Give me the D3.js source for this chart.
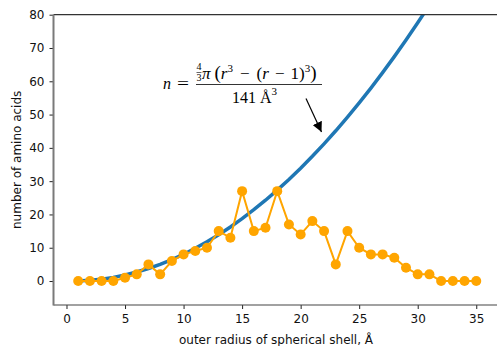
<!DOCTYPE html>
<html>
<head>
<meta charset="utf-8">
<script src="https://cdn.jsdelivr.net/npm/d3@7"></script>
<style>
  body { margin: 0; background: #fff; }
  svg text { font-family: "DejaVu Sans", sans-serif; }
  .formula text { font-family: "Liberation Serif", "DejaVu Serif", serif; fill: #000; }
</style>
</head>
<body>
<div id="chart"></div>
<script>
// observed residues per shell (orange)
const shellRadius = [1, 2, 3, 4, 5, 6, 7, 8, 9, 10, 11, 12, 13, 14, 15, 16, 17, 18,
  19, 20, 21, 22, 23, 24, 25, 26, 27, 28, 29, 30, 31, 32, 33, 34, 35];
const aminoCount = [0, 0, 0, 0, 1, 2, 5, 2, 6, 8, 9, 10, 15, 13, 27, 15, 16, 27,
  17, 14, 18, 15, 5, 15, 10, 8, 8, 7, 4, 2, 2, 0, 0, 0, 0];

// expected count per shell (blue)
const curveRadius = [1, 2, 3, 4, 5, 6, 7, 8, 9, 10, 11, 12, 13, 14, 15, 16,
  17, 18, 19, 20, 21, 22, 23, 24, 25, 26, 27, 28, 29, 30, 31, 32];
const curveValue = [0.03, 0.21, 0.56, 1.10, 1.81, 2.70, 3.77, 5.02, 6.45, 8.05,
  9.83, 11.79, 13.93, 16.25, 18.75, 21.42, 24.27, 27.30, 30.51, 33.90, 37.46,
  41.21, 45.13, 49.23, 53.50, 57.96, 62.60, 67.41, 72.40, 77.57, 82.92, 88.44];

const xTicks = [0, 5, 10, 15, 20, 25, 30, 35];
const yTicks = [0, 10, 20, 30, 40, 50, 60, 70, 80];

const W = 497;
const H = 346;
const plot = {left: 53.5, right: 498.5, top: 14.7, bottom: 305};

const xScale = d3.scaleLinear().domain([-1.11, 36.9]).range([plot.left, plot.right]);
const yScale = d3.scaleLinear().domain([-7.2, 80]).range([plot.bottom, plot.top]);

const svg = d3.select('#chart')
    .append('svg')
    .attr('width', W)
    .attr('height', H);

const defs = svg.append('defs');
defs.append('clipPath')
    .attr('id', 'plotClip')
    .append('rect')
    .attr('x', plot.left)
    .attr('y', plot.top)
    .attr('width', plot.right - plot.left)
    .attr('height', plot.bottom - plot.top);

const inner = svg.append('g').attr('clip-path', 'url(#plotClip)');

// blue expected curve
const curveLine = d3.line()
    .x((d, i) => xScale(curveRadius[i]))
    .y((d) => yScale(d));
inner.append('path')
    .datum(curveValue)
    .attr('fill', 'none')
    .attr('stroke', '#1f77b4')
    .attr('stroke-width', 3.5)
    .attr('d', curveLine);

// orange observed line + markers
const countLine = d3.line()
    .x((d, i) => xScale(shellRadius[i]))
    .y((d) => yScale(d));
inner.append('path')
    .datum(aminoCount)
    .attr('fill', 'none')
    .attr('stroke', '#ffa500')
    .attr('stroke-width', 2)
    .attr('d', countLine);
inner.selectAll('circle.pt')
    .data(aminoCount)
    .enter()
    .append('circle')
    .attr('class', 'pt')
    .attr('cx', (d, i) => xScale(shellRadius[i]))
    .attr('cy', (d) => yScale(d))
    .attr('r', 5)
    .attr('fill', '#ffa500');

// axes
const xAxis = svg.append('g')
    .attr('transform', `translate(0, ${plot.bottom})`)
    .call(d3.axisBottom(xScale).tickValues(xTicks).tickSize(4).tickPadding(5));
const yAxis = svg.append('g')
    .attr('transform', `translate(${plot.left}, 0)`)
    .call(d3.axisLeft(yScale).tickValues(yTicks).tickSize(4).tickPadding(5));
[xAxis, yAxis].forEach((ax) => {
  ax.select('.domain').remove();
  ax.selectAll('.tick line').attr('stroke', '#222');
  ax.selectAll('.tick text')
      .attr('fill', '#111')
      .style('font-size', '12px');
});

// spines
svg.append('line')
    .attr('x1', plot.left).attr('x2', W)
    .attr('y1', plot.top).attr('y2', plot.top)
    .attr('stroke', '#333').attr('stroke-width', 1.2);
svg.append('line')
    .attr('x1', plot.left).attr('x2', W)
    .attr('y1', plot.bottom).attr('y2', plot.bottom)
    .attr('stroke', '#444').attr('stroke-width', 1.2);
svg.append('line')
    .attr('x1', plot.left).attr('x2', plot.left)
    .attr('y1', plot.top).attr('y2', plot.bottom + 0.6)
    .attr('stroke', '#7a7a7a').attr('stroke-width', 2);

// axis labels
svg.append('text')
    .attr('x', (plot.left + plot.right) / 2)
    .attr('y', 344)
    .attr('text-anchor', 'middle')
    .style('font-size', '12px')
    .attr('fill', '#111')
    .text('outer radius of spherical shell, Å');
svg.append('text')
    .attr('transform', `translate(20.5, ${(plot.top + plot.bottom) / 2}) rotate(-90)`)
    .attr('text-anchor', 'middle')
    .style('font-size', '12px')
    .attr('fill', '#111')
    .text('number of amino acids');

// formula annotation
const f = svg.append('g').attr('class', 'formula');
f.append('text')
    .attr('x', 163).attr('y', 89)
    .style('font-size', '16px')
    .style('font-style', 'italic')
    .text('n');
f.append('text')
    .attr('x', 177).attr('y', 89)
    .attr('textLength', 12)
    .attr('lengthAdjust', 'spacingAndGlyphs')
    .style('font-size', '16px')
    .text('=');
// small 4/3
f.append('text')
    .attr('x', 199).attr('y', 70)
    .attr('text-anchor', 'middle')
    .style('font-size', '10px')
    .text('4');
f.append('line')
    .attr('x1', 196.5).attr('x2', 201.5)
    .attr('y1', 72.5).attr('y2', 72.5)
    .attr('stroke', '#000').attr('stroke-width', 0.6);
f.append('text')
    .attr('x', 199).attr('y', 80.5)
    .attr('text-anchor', 'middle')
    .style('font-size', '10px')
    .text('3');
const num = f.append('text')
    .attr('x', 202).attr('y', 79)
    .style('font-size', '17px');
num.append('tspan').style('font-style', 'italic').text('π');
num.append('tspan').attr('dx', 4).style('font-size', '19px').text('(');
num.append('tspan').style('font-style', 'italic').text('r');
num.append('tspan').attr('dy', -7).style('font-size', '11px').text('3');
num.append('tspan').attr('dy', 7).attr('dx', 7).text('−');
num.append('tspan').attr('dx', 7).text('(');
num.append('tspan').style('font-style', 'italic').text('r');
num.append('tspan').attr('dx', 6).text('−');
num.append('tspan').attr('dx', 6).text('1)');
num.append('tspan').attr('dy', -7).style('font-size', '11px').text('3');
num.append('tspan').attr('dy', 7).style('font-size', '19px').text(')');
f.append('line')
    .attr('x1', 196).attr('x2', 322)
    .attr('y1', 84.5).attr('y2', 84.5)
    .attr('stroke', '#000').attr('stroke-width', 0.8);
const den = f.append('text')
    .attr('x', 232).attr('y', 103)
    .style('font-size', '16px');
den.append('tspan').text('141 Å');
den.append('tspan').attr('dy', -8).style('font-size', '11px').text('3');

// arrow
defs.append('marker')
    .attr('id', 'head')
    .attr('viewBox', '0 0 10 10')
    .attr('refX', 10).attr('refY', 5)
    .attr('markerWidth', 10).attr('markerHeight', 10)
    .attr('markerUnits', 'userSpaceOnUse')
    .attr('orient', 'auto')
    .append('path')
    .attr('d', 'M0,0 L10,5 L0,10 Z')
    .attr('fill', '#000');
svg.append('line')
    .attr('x1', 306).attr('y1', 98.5)
    .attr('x2', 321.5).attr('y2', 132)
    .attr('stroke', '#000').attr('stroke-width', 1.2)
    .attr('marker-end', 'url(#head)');
</script>
</body>
</html>
